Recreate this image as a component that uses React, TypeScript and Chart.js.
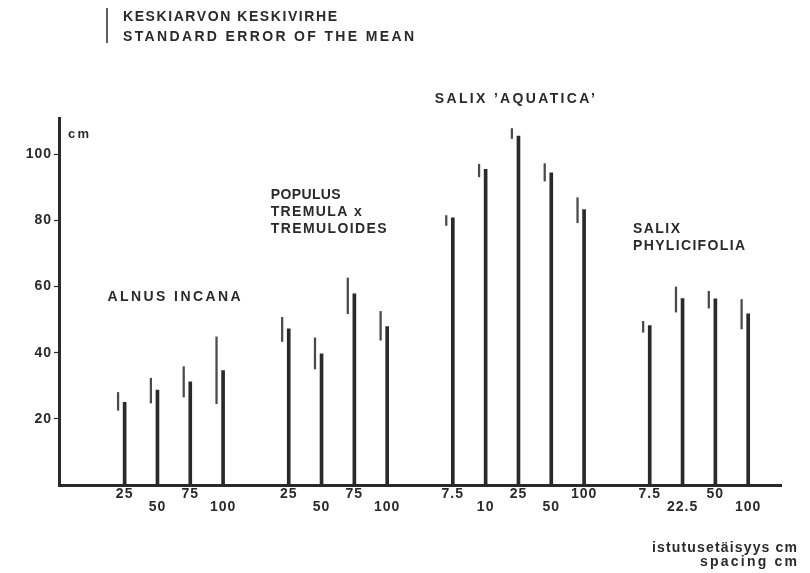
import React, { useEffect, useRef } from "react";
import { Chart, registerables } from "chart.js";

Chart.register(...registerables);

// ---- data ----
const alnusSpacing = ["25", "50", "75", "100"];
const alnusMean = [25.0, 28.7, 31.2, 34.6];
const alnusLow = [22.6, 24.8, 26.6, 24.6];
const alnusHigh = [28.0, 32.3, 35.8, 44.8];

const populusSpacing = ["25", "50", "75", "100"];
const populusMean = [47.2, 39.7, 57.8, 47.9];
const populusLow = [43.4, 35.1, 51.8, 43.8];
const populusHigh = [50.7, 44.5, 62.6, 52.5];

const aquaticaSpacing = ["7.5", "10", "25", "50", "100"];
const aquaticaMean = [80.8, 95.5, 105.5, 94.4, 83.3];
const aquaticaLow = [78.5, 93.2, 104.8, 91.9, 79.3];
const aquaticaHigh = [81.5, 97.0, 107.8, 97.2, 86.9];

const phylicifoliaSpacing = ["7.5", "22.5", "50", "100"];
const phylicifoliaMean = [48.2, 56.4, 56.3, 51.8];
const phylicifoliaLow = [46.2, 52.3, 53.5, 47.2];
const phylicifoliaHigh = [49.5, 59.9, 58.6, 56.1];

// category slots along the x axis (groups separated by an empty slot)
const alnusSlots = [2, 3, 4, 5];
const populusSlots = [7, 8, 9, 10];
const aquaticaSlots = [12, 13, 14, 15, 16];
const phylicifoliaSlots = [18, 19, 20, 21];

const yTicks = [20, 40, 60, 80, 100];

const groups = [
  { slots: alnusSlots, labels: alnusSpacing, mean: alnusMean, low: alnusLow, high: alnusHigh },
  { slots: populusSlots, labels: populusSpacing, mean: populusMean, low: populusLow, high: populusHigh },
  { slots: aquaticaSlots, labels: aquaticaSpacing, mean: aquaticaMean, low: aquaticaLow, high: aquaticaHigh },
  { slots: phylicifoliaSlots, labels: phylicifoliaSpacing, mean: phylicifoliaMean, low: phylicifoliaLow, high: phylicifoliaHigh },
];

const INK = "#2a2a2a";
const FONT = "'Liberation Sans', Arial, sans-serif";
const ERR_OFFSET = 0.2;

export default function App() {
  const ref = useRef<HTMLCanvasElement>(null);

  useEffect(() => {
    const canvas = ref.current!;
    const barData: { x: number; y: number }[] = [];
    const errData: { x: number; y: [number, number] }[] = [];
    const tickVals: number[] = [];
    const tickLabels: (string | string[])[] = [];
    groups.forEach((g) => {
      g.slots.forEach((s, i) => {
        barData.push({ x: s, y: g.mean[i] });
        errData.push({ x: s - ERR_OFFSET, y: [g.low[i], g.high[i]] });
        tickVals.push(s);
        tickLabels.push(i % 2 === 0 ? g.labels[i] : ["", g.labels[i]]);
      });
    });

    const fitText = (ctx: CanvasRenderingContext2D, text: string, x: number, y: number, w: number, align: "left" | "right" = "left") => {
      ctx.letterSpacing = "0px";
      const natural = ctx.measureText(text).width;
      const n = Math.max(text.length - 1, 1);
      const sp = (w - natural) / n;
      ctx.letterSpacing = sp + "px";
      ctx.textAlign = "left";
      const start = align === "left" ? x : x - w;
      ctx.fillText(text, start, y);
      ctx.letterSpacing = "0px";
    };

    const annotations = {
      id: "annotations",
      beforeDraw(chart: any) {
        chart.ctx.letterSpacing = "1px";
      },
      afterDraw(chart: any) {
        const ctx: CanvasRenderingContext2D = chart.ctx;
        const xs = chart.scales.x;
        const ys = chart.scales.y;
        ctx.save();
        ctx.fillStyle = INK;
        ctx.textBaseline = "middle";
        ctx.font = `bold 14px ${FONT}`;
        // legend
        ctx.strokeStyle = INK;
        ctx.lineWidth = 1.5;
        ctx.beginPath();
        ctx.moveTo(107, 8);
        ctx.lineTo(107, 43);
        ctx.stroke();
        fitText(ctx, "KESKIARVON KESKIVIRHE", 123, 17, 214);
        fitText(ctx, "STANDARD ERROR OF THE MEAN", 123, 37, 291);
        // unit
        ctx.font = `bold 13px ${FONT}`;
        fitText(ctx, "cm", 68, 134, 21);
        // group names (data coordinates)
        ctx.font = `bold 14px ${FONT}`;
        const put = (t: string, xv: number, yv: number, w: number) =>
          fitText(ctx, t, xs.getPixelForValue(xv), ys.getPixelForValue(yv), w);
        put("ALNUS INCANA", 1.48, 56.7, 133);
        put("POPULUS", 6.45, 87.6, 70);
        put("TREMULA x", 6.45, 82.4, 91);
        put("TREMULOIDES", 6.45, 77.3, 116);
        put("SALIX \u2019AQUATICA\u2019", 11.45, 116.6, 160);
        put("SALIX", 17.49, 77.3, 47);
        put("PHYLICIFOLIA", 17.49, 72.1, 112);
        // axis title
        fitText(ctx, "istutusetäisyys cm", 797, 548, 145, "right");
        fitText(ctx, "spacing cm", 797, 562, 97, "right");
        ctx.restore();
        ctx.letterSpacing = "0px";
      },
    };

    const chart = new Chart(canvas, {
      type: "bar",
      data: {
        datasets: [
          {
            data: errData as any,
            backgroundColor: "#4a4a4a",
            barThickness: 1.6,
            grouped: false,
          } as any,
          {
            data: barData as any,
            backgroundColor: INK,
            barThickness: 3,
            grouped: false,
          } as any,
        ],
      },
      options: {
        animation: false,
        responsive: false,
        maintainAspectRatio: false,
        layout: { padding: { left: 0, right: 29, top: 118, bottom: 0 } },
        plugins: { legend: { display: false }, tooltip: { enabled: false } },
        scales: {
          x: {
            type: "linear",
            min: 0,
            max: 22,
            offset: false,
            afterBuildTicks(scale: any) {
              scale.ticks = tickVals.map((v) => ({ value: v }));
            },
            afterFit(scale: any) {
              scale.height = 88;
            },
            ticks: {
              autoSkip: false,
              maxRotation: 0,
              padding: 2,
              color: INK,
              font: { family: FONT, size: 14, weight: "bold", lineHeight: 0.95 },
              callback: (_v: any, i: number) => tickLabels[i],
            },
            grid: { display: true, drawOnChartArea: false, drawTicks: false, offset: false },
            border: { display: true, width: 3, color: INK },
          },
          y: {
            type: "linear",
            min: 0,
            max: 111,
            afterBuildTicks(scale: any) {
              scale.ticks = yTicks.map((v) => ({ value: v }));
            },
            afterFit(scale: any) {
              scale.width = 59;
            },
            ticks: {
              padding: 2,
              color: INK,
              font: { family: FONT, size: 14, weight: "bold" },
              callback: (v: any) => String(v),
            },
            grid: { display: true, drawOnChartArea: false, drawTicks: true, tickLength: 5, tickWidth: 1.2, tickColor: INK },
            border: { display: true, width: 3, color: INK },
          },
        },
      },
      plugins: [annotations],
    });
    return () => chart.destroy();
  }, []);

  return (
    <div style={{ position: "fixed", left: 0, top: 0, width: 810, height: 573, background: "#fff" }}>
      <canvas ref={ref} width={810} height={573} style={{ width: 810, height: 573, display: "block" }} />
    </div>
  );
}
